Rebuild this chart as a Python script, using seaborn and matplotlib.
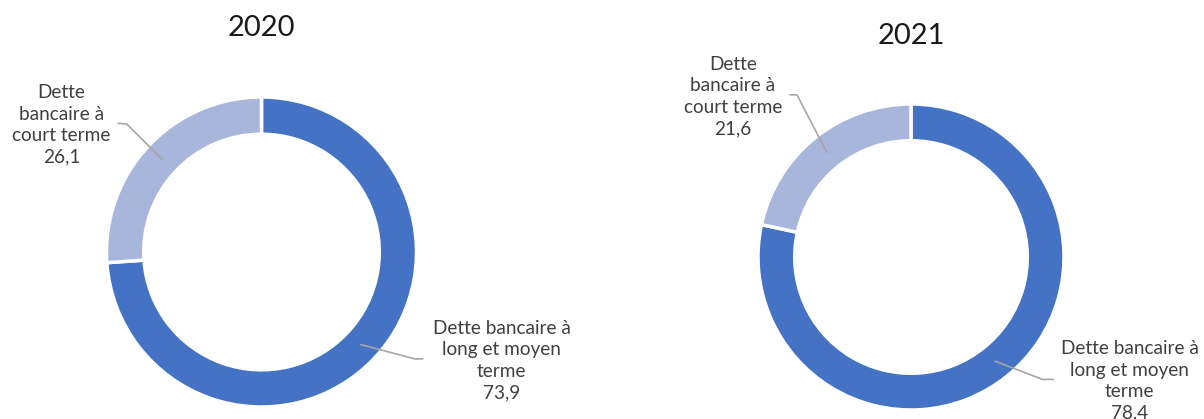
import numpy as np
import matplotlib
matplotlib.use("Agg")
import matplotlib.pyplot as plt
import seaborn as sns

# données
annees = ["2020", "2021"]
categories = ["Dette bancaire à\nlong et moyen\nterme", "Dette\nbancaire à\ncourt terme"]
valeurs_2020 = [73.9, 26.1]
valeurs_2021 = [78.4, 21.6]
valeurs = [valeurs_2020, valeurs_2021]

couleurs = ["#4472C4", "#A9B6DB"]
gris_texte = "#404040"
gris_ligne = "#A6A6A6"

sns.set_theme(style="white")
plt.rcParams["font.family"] = ["Lato", "DejaVu Sans"]

fig = plt.figure(figsize=(12.04, 4.19), dpi=100)
W, H = 1204, 419

# centre (px), rayon (px) de chaque anneau
centres = [(261.5, 252, 155), (911, 257, 153)]
# position du texte, début horizontal et coude de la ligne de rappel (unités du rayon)
pos_labels = [
    [((1.55, -0.70), (1.04, -0.69), (0.99, -0.69)),
     ((-1.29, 0.82), (-0.925, 0.83), (-0.87, 0.826))],
    [((1.43, -0.81), (0.93, -0.80), (0.86, -0.80)),
     ((-1.163, 1.05), (-0.79, 1.06), (-0.745, 1.06))],
]

for i, (annee, vals) in enumerate(zip(annees, valeurs)):
    cx, cy, R = centres[i]
    x0 = 0 if i == 0 else W / 2
    ax = fig.add_axes([x0 / W, 0, 0.5, 1])
    wedges, _ = ax.pie(vals, colors=couleurs, startangle=90, counterclock=False,
                       radius=1, wedgeprops=dict(width=0.24, edgecolor="white", linewidth=2.5))
    ax.set_aspect("auto")
    ax.set_xlim((x0 - cx) / R, (x0 + W / 2 - cx) / R)
    ax.set_ylim(-(H - cy) / R, cy / R)
    ax.axis("off")
    ax.text(0, 1.445, annee, ha="center", va="center", fontsize=21, color="#1a1a1a")

    for j, w in enumerate(wedges):
        ang = np.deg2rad((w.theta1 + w.theta2) / 2)
        ancre = (0.875 * np.cos(ang), 0.875 * np.sin(ang))
        (tx, ty), (hx, hy), (kx, ky) = pos_labels[i][j]
        ax.plot([hx, kx, ancre[0]], [hy, ky, ancre[1]], color=gris_ligne, lw=1.2,
                clip_on=False, zorder=3)
        txt = categories[j] + "\n" + f"{vals[j]:.1f}".replace(".", ",")
        ax.text(tx, ty, txt, ha="center", va="center", fontsize=13.7,
                color=gris_texte, linespacing=1.32)

fig.savefig("out.png", dpi=100)
